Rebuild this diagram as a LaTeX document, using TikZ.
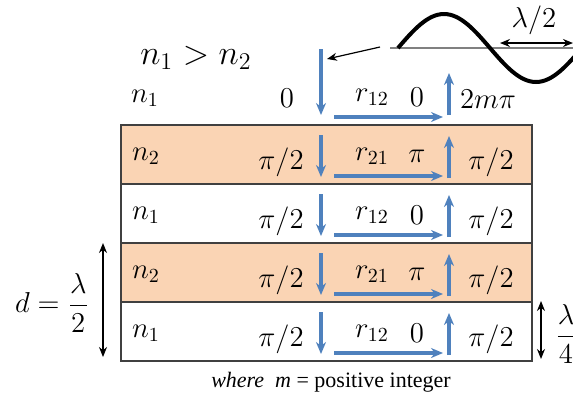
\documentclass[tikz,border=0pt]{standalone}
\usepackage{amsmath}
\usepackage{fontspec}
\newfontfamily\timesfont{Liberation Serif}
\usetikzlibrary{arrows.meta}

\definecolor{layerorange}{HTML}{FAD4B4}
\definecolor{rayblue}{HTML}{4F81BD}
\definecolor{edgegray}{HTML}{404040}

\tikzset{
	ray/.style={rayblue, line width=1.6pt, -{Stealth[length=6pt,width=5pt]}},
	lbl/.style={inner sep=1pt, font=\fontsize{14}{16}\selectfont},
	dimarrow/.style={black, line width=0.7pt, {Stealth[length=5pt,width=4pt]}-{Stealth[length=5pt,width=4pt]}}
}

\begin{document}
\begin{tikzpicture}[x=0.5pt, y=-0.5pt]

	\useasboundingbox (0,0) rectangle (573,398);

	% --- Layers ---
	\foreach \k/\fc in {1/layerorange, 2/white, 3/layerorange, 4/white} {
		\pgfmathsetmacro{\top}{125+59*(\k-1)}
		\draw[edgegray, line width=1.1pt, fill=\fc] (121,\top) rectangle (532,\top+59);
	}

	% --- Incident wave ---
	\draw[gray, line width=0.8pt] (390,48) -- (573,48);
	\begin{scope}
		\clip (390,0) rectangle (573,100);
		\draw[black, line width=2pt] (398,48) sin (444,14) cos (490,48) sin (536,82) cos (582,48);
	\end{scope}
	\coordinate (halfa) at (500,43);
	\coordinate (halfb) at (573,43);
	\draw[dimarrow] (halfa) -- (halfb);
	\node[lbl] (halflbl) at (534,20) {$\lambda/2$};
	\coordinate (wavefoot) at (380,47);
	\coordinate (wavetip) at (327,59);
	\draw[black, line width=0.6pt, -{Stealth[length=5pt,width=4pt]}] (wavefoot) -- (wavetip);

	% --- Top medium ---
	\node[lbl, font=\fontsize{17}{19}\selectfont] (cond) at (196,58) {$n_1 > n_2$};
	\node[lbl] (n0) at (145,98) {$n_1$};
	\node[lbl] (in0) at (287,98) {$0$};
	\node[lbl] (r0) at (372,97) {$r_{12}$};
	\node[lbl] (rp0) at (417,97) {$0$};
	\node[lbl] (out0) at (488,99) {$2m\pi$};
	\coordinate (d0s) at (321,49);
	\coordinate (d0e) at (321,115);
	\coordinate (h0s) at (334,117);
	\coordinate (h0e) at (443,117);
	\coordinate (u0s) at (449,115);
	\coordinate (u0e) at (449,73);
	\draw[ray] (d0s) -- (d0e);
	\draw[ray] (h0s) -- (h0e);
	\draw[ray] (u0s) -- (u0e);

	% --- Rows inside the stack ---
	\foreach \k/\nn/\rr/\ph in {1/2/21/\pi, 2/1/12/0, 3/2/21/\pi, 4/1/12/0} {
		\pgfmathsetmacro{\top}{125+59*(\k-1)}
		\node[lbl] (n\k) at (146,\top+31) {$n_\nn$};
		\node[lbl] (in\k) at (281,\top+37) {$\pi/2$};
		\node[lbl] (r\k) at (372,\top+31) {$r_{\rr}$};
		\node[lbl] (rp\k) at (417,\top+31) {$\ph$};
		\node[lbl] (out\k) at (491,\top+37) {$\pi/2$};
		\coordinate (d\k s) at (321,\top+10);
		\coordinate (d\k e) at (321,\top+52);
		\coordinate (h\k s) at (334,\top+51);
		\coordinate (h\k e) at (443,\top+51);
		\coordinate (u\k s) at (449,\top+53);
		\coordinate (u\k e) at (449,\top+11);
		\draw[ray] (d\k s) -- (d\k e);
		\draw[ray] (h\k s) -- (h\k e);
		\draw[ray] (u\k s) -- (u\k e);
	}

	% --- Thickness marks ---
	\coordinate (dtop) at (103,243);
	\coordinate (dbot) at (103,357);
	\draw[dimarrow] (dtop) -- (dbot);
	\node[lbl, font=\fontsize{15}{17}\selectfont] (dlbl) at (52,303) {$d=\dfrac{\lambda}{2}$};
	\coordinate (qtop) at (541,301);
	\coordinate (qbot) at (541,359);
	\draw[dimarrow] (qtop) -- (qbot);
	\node[lbl, font=\fontsize{15}{17}\selectfont] (qlbl) at (566,334) {$\dfrac{\lambda}{4}$};

	% --- Note ---
	\node[inner sep=0pt, font=\timesfont\fontsize{11}{13}\selectfont] (note) at (331,382)
		{\itshape where\ \ m \upshape = positive integer};

\end{tikzpicture}
\end{document}
